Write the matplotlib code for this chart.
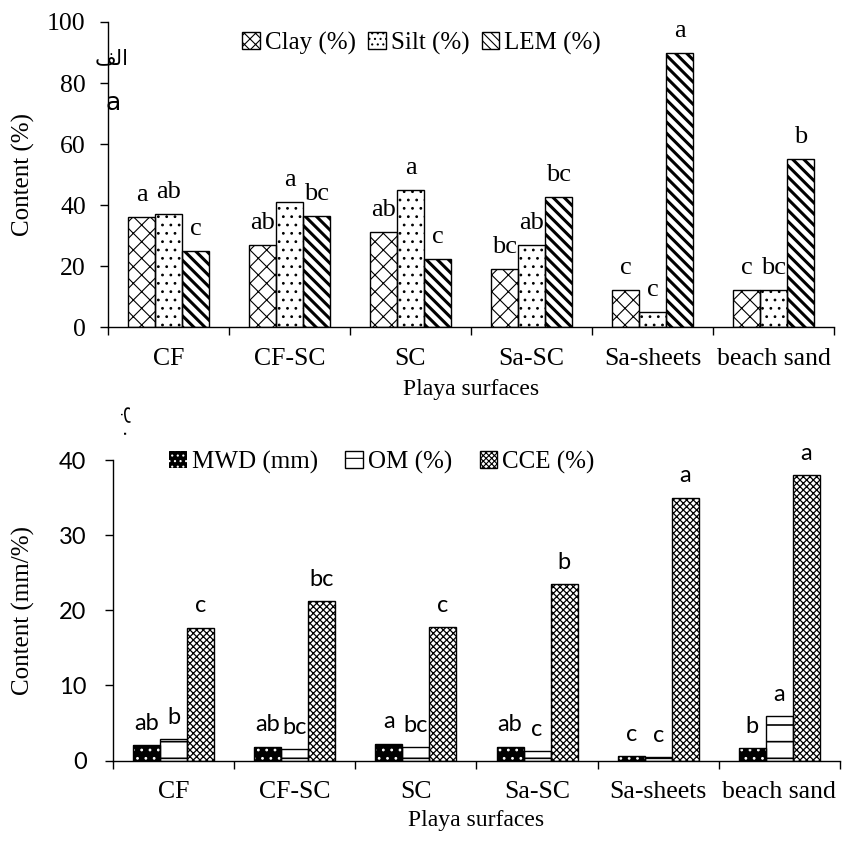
import matplotlib

matplotlib.use("Agg")

import matplotlib.pyplot as plt
import numpy as np
from matplotlib.patches import Patch

categories = ["CF", "CF-SC", "SC", "Sa-SC", "Sa-sheets", "beach sand"]

# top panel: texture (%)
clay = [36, 27, 31, 19, 12, 12]
silt = [37, 41, 45, 27, 5, 12]
lem = [25, 36.3, 22.4, 42.5, 89.7, 55]
clay_letters = ["a", "ab", "ab", "bc", "c", "c"]
silt_letters = ["ab", "a", "a", "ab", "c", "bc"]
lem_letters = ["c", "bc", "c", "bc", "a", "b"]

# bottom panel: MWD (mm), OM (%), CCE (%)
mwd = [2.0, 1.85, 2.25, 1.85, 0.55, 1.6]
om = [2.8, 1.5, 1.75, 1.2, 0.45, 5.9]
cce = [17.7, 21.2, 17.8, 23.5, 35.0, 38.0]
mwd_letters = ["ab", "ab", "a", "ab", "c", "b"]
om_letters = ["b", "bc", "bc", "c", "c", "a"]
cce_letters = ["c", "bc", "c", "b", "a", "a"]

SERIF = "Liberation Serif"
SANS = "Lato"
plt.rcParams.update({"font.family": SERIF, "hatch.linewidth": 0.8})

W = 0.223
x = np.arange(len(categories))


def hatched_bars(ax, xs, values, hatch, lw_hatch=0.8, face="white", hatch_color="black"):
    with plt.rc_context({"hatch.linewidth": lw_hatch}):
        bars = ax.bar(xs, values, W, color=face, edgecolor=hatch_color, hatch=hatch, linewidth=0, zorder=2)
        for b in bars:
            if hasattr(b, "set_hatch_linewidth"):
                b.set_hatch_linewidth(lw_hatch)
    ax.bar(xs, values, W, color="none", edgecolor="black", linewidth=1.0, zorder=3)
    return bars


def style_axes(ax, ymax, ystep, tick_font, tick_size, tick_pad):
    for side in ["top", "right"]:
        ax.spines[side].set_visible(False)
    ax.spines["left"].set_linewidth(1.0)
    ax.spines["bottom"].set_linewidth(1.0)
    ax.set_xlim(-0.5, len(categories) - 0.5)
    ax.set_ylim(0, ymax)
    ax.set_yticks(np.arange(0, ymax + 0.1, ystep))
    ax.set_xticks(x)
    ax.set_xticklabels(categories, fontsize=18.5, family=SERIF)
    ax.set_xticks(np.arange(-0.5, len(categories)), minor=True)
    ax.tick_params(axis="x", which="major", length=0, pad=15)
    ax.tick_params(axis="x", which="minor", length=6, width=1.0, direction="out")
    ax.tick_params(axis="y", length=6, width=1.0, direction="out", pad=tick_pad)
    for t in ax.get_yticklabels():
        t.set_fontsize(tick_size)
        t.set_family(tick_font)


def put_letters(ax, xs, values, letters, font, size, offset):
    for xi, v, s in zip(xs, values, letters):
        ax.annotate(s, (xi, v), xytext=(0, offset), textcoords="offset points",
                    ha="center", va="bottom", fontsize=size, family=font)


fig = plt.figure(figsize=(8.42, 8.46), dpi=100)

# ---- top panel
ax1 = fig.add_axes([108 / 842, 1 - 327 / 846, 726 / 842, 305 / 846])
hatched_bars(ax1, x - W, clay, "xx")
hatched_bars(ax1, x, silt, "..")
hatched_bars(ax1, x + W, lem, "\\\\\\", lw_hatch=2.2)
style_axes(ax1, 100, 20, SERIF, 18.5, 10)
put_letters(ax1, x - W, clay, clay_letters, SERIF, 19, 8)
put_letters(ax1, x, silt, silt_letters, SERIF, 19, 8)
put_letters(ax1, x + W, lem, lem_letters, SERIF, 19, 8)
ax1.set_ylabel("Content (%)", fontsize=18)
ax1.yaxis.set_label_coords(-0.100, 0.5)
ax1.set_xlabel("Playa surfaces", fontsize=17)
ax1.xaxis.set_label_coords(0.5, -0.17)

with plt.rc_context({"hatch.linewidth": 0.8}):
    h_clay = Patch(facecolor="white", edgecolor="black", hatch="xxx", linewidth=1)
    h_silt = Patch(facecolor="white", edgecolor="black", hatch="...", linewidth=1)
with plt.rc_context({"hatch.linewidth": 1.6}):
    h_lem = Patch(facecolor="white", edgecolor="black", hatch="\\\\\\\\", linewidth=1)
ax1.legend([h_clay, h_silt, h_lem], ["Clay (%)", "Silt (%)", "LEM (%)"],
           loc="center", bbox_to_anchor=(0.432, 0.93), ncol=3, frameon=False,
           fontsize=18, handlelength=0.7, handleheight=0.7, handletextpad=0.2,
           columnspacing=0.5, borderpad=0)

# ---- bottom panel
ax2 = fig.add_axes([113 / 842, 1 - 760.5 / 846, 727 / 842, 300.5 / 846])
ax2.bar(x - W, mwd, W, color="black", linewidth=0, zorder=2)
hatched_bars(ax2, x - W, mwd, "..", face="none", hatch_color="white")
hatched_bars(ax2, x, om, "-", lw_hatch=1.2)
hatched_bars(ax2, x + W, cce, "xxxxx", lw_hatch=0.9)
style_axes(ax2, 40, 10, SANS, 17, 13)
put_letters(ax2, x - W, mwd, mwd_letters, SANS, 17, 8)
put_letters(ax2, x, om, om_letters, SANS, 17, 8)
put_letters(ax2, x + W, cce, cce_letters, SANS, 17, 8)
ax2.set_ylabel("Content (mm/%)", fontsize=18)
ax2.yaxis.set_label_coords(-0.107, 0.5)
ax2.set_xlabel("Playa surfaces", fontsize=17)
ax2.xaxis.set_label_coords(0.5, -0.165)

with plt.rc_context({"hatch.linewidth": 1.0}):
    h_mwd = Patch(facecolor="black", edgecolor="white", hatch="...", linewidth=0)
    h_om = Patch(facecolor="white", edgecolor="black", hatch="-", linewidth=1)
    h_cce = Patch(facecolor="white", edgecolor="black", hatch="xxxxxx", linewidth=1)
ax2.legend([h_mwd, h_om, h_cce], ["MWD (mm)", "OM (%)", "CCE (%)"],
           loc="center", bbox_to_anchor=(0.37, 0.993), ncol=3, frameon=False,
           fontsize=18, handlelength=0.7, handleheight=0.7, handletextpad=0.2,
           columnspacing=1.1, borderpad=0)

# panel markers
fig.text(112 / 842, 1 - 58 / 846, "\ufed2\ufedf\u0627", ha="center", va="center",
         fontsize=15, family="DejaVu Sans")
fig.text(113 / 842, 1 - 103 / 846, "a", ha="center", va="center", fontsize=18, family="DejaVu Sans")
fig.text(129 / 842, 1 - 420 / 846, "\ufe8f .", ha="center", va="center", rotation=-90,
         fontsize=14, family="DejaVu Sans")

fig.savefig("out.png", dpi=100, facecolor="white")
